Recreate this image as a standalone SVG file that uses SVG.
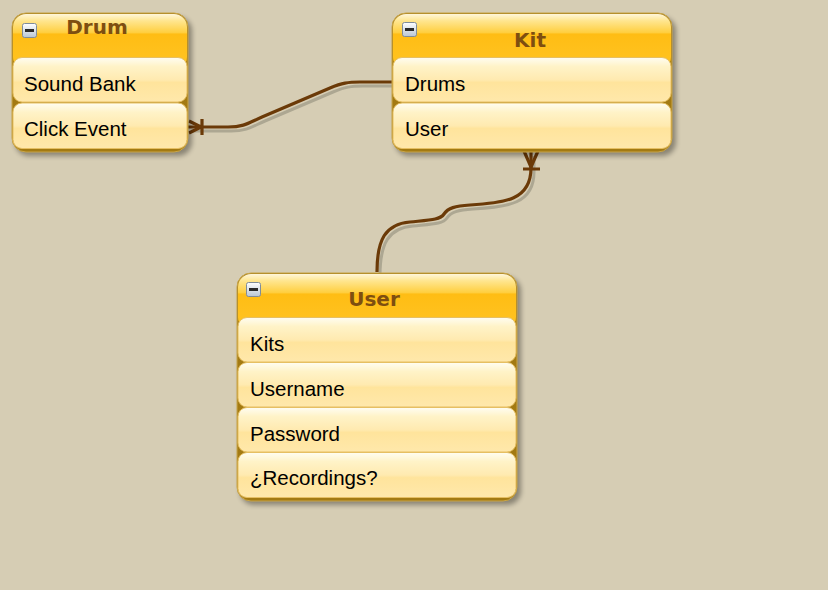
<svg xmlns="http://www.w3.org/2000/svg" width="828" height="590" viewBox="0 0 828 590">
<defs>
<linearGradient id="hdr" x1="0" y1="0" x2="0" y2="1">
<stop offset="0" stop-color="#fff6da"/>
<stop offset="0.12" stop-color="#ffe690"/>
<stop offset="0.33" stop-color="#ffcf40"/>
<stop offset="0.36" stop-color="#ffbd14"/>
<stop offset="1" stop-color="#ffc424"/>
</linearGradient>
<linearGradient id="row" x1="0" y1="0" x2="0" y2="1">
<stop offset="0" stop-color="#fffdf2"/>
<stop offset="0.2" stop-color="#fff3c8"/>
<stop offset="0.5" stop-color="#ffeab0"/>
<stop offset="0.56" stop-color="#ffe49c"/>
<stop offset="1" stop-color="#ffe8ab"/>
</linearGradient>
<linearGradient id="ico" x1="0" y1="0" x2="0" y2="1">
<stop offset="0" stop-color="#ffffff"/>
<stop offset="1" stop-color="#b9c6d4"/>
</linearGradient>
<filter id="sh" x="-10%" y="-10%" width="130%" height="130%">
<feGaussianBlur stdDeviation="2.5"/>
</filter>
</defs>
<style>
.bg{fill:#d6cdb4}
.shadow{fill:#000;opacity:0.35;filter:url(#sh)}
.frame{fill:#a37a12;stroke:#c9a548;stroke-width:1}
.hdr{fill:url(#hdr)}
.row{fill:url(#row);stroke:#e6bf62;stroke-width:1}
.title{font-family:"DejaVu Sans",Verdana,sans-serif;font-weight:bold;font-size:20px;fill:#7e4e10;text-anchor:middle}
.txt{font-family:"Liberation Sans",Arial,sans-serif;font-size:20.5px;fill:#000}
.icon{fill:url(#ico);stroke:#7f8c9a;stroke-width:1}
.dash{fill:#2a2a2a}
.cshadow{fill:none;stroke:#a39d8a;stroke-width:3;opacity:0.8}
.conn{fill:none;stroke:#6b3a08;stroke-width:3.2;stroke-linecap:butt}
</style>
<rect class="bg" x="0" y="0" width="828" height="590"/>

<g id="connectors">
<path class="cshadow" d="M191 131 H231 C248 131 253 126 265 121 L333 92 C345 87 351 86 363 86 H396"/>
<path class="cshadow" d="M380 276 C380 244 388 228 413 226 C433 224 443 224 447 218 C451 212 458 210 473 209 C508 207 534 204 534 172 L534 156"/>
<path class="conn" d="M188 127 H228 C245 127 250 122 262 117 L330 88 C342 83 348 82 360 82 H394"/>
<path class="conn" d="M189 121 L201 127 M189 133 L201 127 M202 119 V135"/>
<path class="conn" d="M377 272 C377 240 385 224 410 222 C430 220 440 220 444 214 C448 208 455 206 470 205 C505 203 531 200 531 168 L531 151"/>
<path class="conn" d="M531 167 L524 151 M531 167 L538 151 M523 169 H540"/>
</g>

<g id="node-drum">
<rect class="shadow" x="15" y="17" width="177" height="139" rx="14"/>
<rect class="frame" x="12" y="13" width="176" height="139" rx="14"/>
<rect class="hdr" x="13" y="14" width="174" height="56" rx="13"/>
<rect class="icon" x="22.5" y="23.5" width="14" height="14" rx="2"/>
<rect class="dash" x="25" y="29" width="9" height="3"/>
<text class="title" x="97" y="34">Drum</text>
<rect class="row" x="13" y="57.5" width="174" height="44.5" rx="9"/>
<text class="txt" x="24" y="91">Sound Bank</text>
<rect class="row" x="13" y="103" width="174" height="45.5" rx="9"/>
<text class="txt" x="24" y="136">Click Event</text>
</g>

<g id="node-kit">
<rect class="shadow" x="395" y="17" width="281" height="139" rx="14"/>
<rect class="frame" x="392" y="13" width="280" height="139" rx="14"/>
<rect class="hdr" x="393" y="14" width="278" height="56" rx="13"/>
<rect class="icon" x="402.5" y="22.5" width="14" height="14" rx="2"/>
<rect class="dash" x="405" y="28" width="9" height="3"/>
<text class="title" x="530" y="47">Kit</text>
<rect class="row" x="393" y="57.5" width="278" height="44.5" rx="9"/>
<text class="txt" x="405" y="91">Drums</text>
<rect class="row" x="393" y="103" width="278" height="45.5" rx="9"/>
<text class="txt" x="405" y="136">User</text>
</g>

<g id="node-user">
<rect class="shadow" x="240" y="277" width="281" height="228" rx="14"/>
<rect class="frame" x="237" y="273" width="280" height="228" rx="14"/>
<rect class="hdr" x="238" y="274" width="278" height="56" rx="13"/>
<rect class="icon" x="246.5" y="282.5" width="14" height="14" rx="2"/>
<rect class="dash" x="249" y="288" width="9" height="3"/>
<text class="title" x="374" y="306">User</text>
<rect class="row" x="238" y="317.5" width="278" height="44.5" rx="9"/>
<text class="txt" x="250" y="351">Kits</text>
<rect class="row" x="238" y="362.5" width="278" height="44.5" rx="9"/>
<text class="txt" x="250" y="396">Username</text>
<rect class="row" x="238" y="407.5" width="278" height="44.5" rx="9"/>
<text class="txt" x="250" y="441">Password</text>
<rect class="row" x="238" y="452.5" width="278" height="45" rx="9"/>
<text class="txt" x="250" y="485">¿Recordings?</text>
</g>
</svg>
